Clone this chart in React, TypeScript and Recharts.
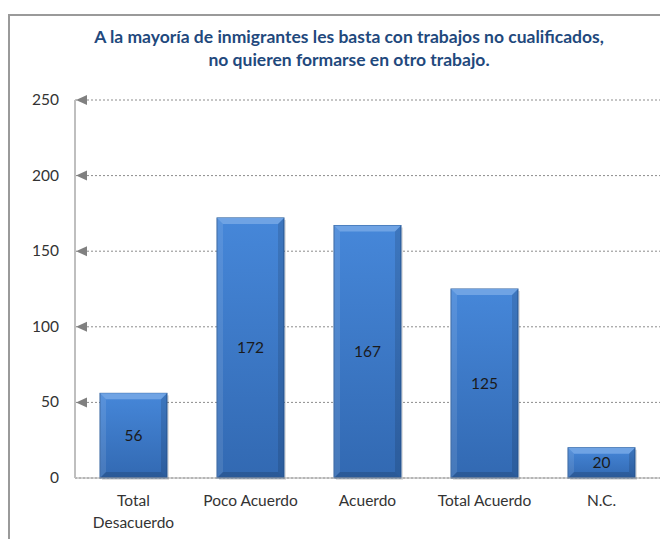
import { BarChart, Bar, XAxis, YAxis, CartesianGrid, LabelList } from "recharts";

const categories = ["Total\nDesacuerdo", "Poco Acuerdo", "Acuerdo", "Total Acuerdo", "N.C."];
const counts = [56, 172, 167, 125, 20];
const yTicks = [0, 50, 100, 150, 200, 250];
const titleLines = [
  "A la mayoría de inmigrantes les basta con trabajos no cualificados,",
  "no quieren formarse en otro trabajo.",
];

const data = categories.map((name, i) => ({ name, value: counts[i] }));

const FONT = "Lato, 'Open Sans', sans-serif";

const YTick = (props: any) => {
  const { x, y, payload } = props;
  return (
    <g>
      <text x={x - 16} y={y} dy={5} textAnchor="end" fontSize={15.5} fill="#333" fontFamily={FONT}>
        {payload.value}
      </text>
      {payload.value > 0 && <polygon points={`${x + 1},${y} ${x + 12},${y - 5} ${x + 12},${y + 5}`} fill="#808080" />}
    </g>
  );
};

const XTick = (props: any) => {
  const { x, y, payload } = props;
  const lines = String(payload.value).split("\n");
  return (
    <g>
      {lines.map((l, i) => (
        <text key={i} x={x} y={y + 15 + i * 22} dy={5} textAnchor="middle" fontSize={15.5} fill="#333" fontFamily={FONT}>
          {l}
        </text>
      ))}
    </g>
  );
};

const BevelBar = (props: any) => {
  const { x, y, width, height } = props;
  if (!height || height <= 0) return null;
  const b = 6;
  return (
    <g>
      <rect x={x + 2} y={y + 2} width={width} height={height} fill="rgba(0,0,0,0.12)" />
      <rect x={x} y={y} width={width} height={height} fill="url(#barFill)" stroke="#2a5d9c" strokeWidth={1} />
      <polygon points={`${x},${y} ${x + width},${y} ${x + width - b},${y + b} ${x + b},${y + b}`} fill="#6fa3e4" />
      <polygon points={`${x},${y} ${x + b},${y + b} ${x + b},${y + height - b} ${x},${y + height}`} fill="rgba(255,255,255,0.10)" />
      <polygon points={`${x + width},${y} ${x + width - b},${y + b} ${x + width - b},${y + height - b} ${x + width},${y + height}`} fill="rgba(0,0,0,0.12)" />
      <polygon points={`${x},${y + height} ${x + b},${y + height - b} ${x + width - b},${y + height - b} ${x + width},${y + height}`} fill="rgba(0,0,0,0.15)" />
    </g>
  );
};

export default function App() {
  return (
    <div style={{ position: "relative", width: 660, height: 531, overflow: "hidden", background: "#fff" }}>
      <div
        style={{
          position: "absolute",
          left: 0,
          top: 6,
          width: 700,
          height: 600,
          borderLeft: "2px solid #9a9a9a",
          borderTop: "2px solid #9a9a9a",
        }}
      />
      <div
        style={{
          position: "absolute",
          left: 0,
          width: 682,
          top: 17,
          textAlign: "center",
          fontFamily: FONT,
          fontWeight: "bold",
          fontSize: 17.5,
          lineHeight: "23px",
          color: "#1f497d",
        }}
      >
        {titleLines.map((t, i) => (
          <div key={i}>{t}</div>
        ))}
      </div>
      <BarChart
        width={660}
        height={531}
        data={data}
        margin={{ top: 92, right: 8, left: 0, bottom: 0 }}
        barSize={67}
        style={{ position: "absolute", left: 0, top: 0 }}
      >
        <defs>
          <linearGradient id="barFill" x1="0" y1="0" x2="0" y2="1">
            <stop offset="0%" stopColor="#4687d9" />
            <stop offset="100%" stopColor="#3269b2" />
          </linearGradient>
        </defs>
        <CartesianGrid vertical={false} stroke="#8c8c8c" strokeDasharray="2 2" />
        <XAxis
          dataKey="name"
          height={61}
          tick={<XTick />}
          tickLine={false}
          axisLine={{ stroke: "#a6a6a6" }}
          interval={0}
        />
        <YAxis
          width={67}
          domain={[0, 250]}
          ticks={yTicks}
          tick={<YTick />}
          tickLine={false}
          tickSize={0}
          tickMargin={0}
          axisLine={{ stroke: "#bfbfbf", strokeWidth: 2 }}
          interval={0}
        />
        <Bar dataKey="value" shape={<BevelBar />} isAnimationActive={false}>
          <LabelList dataKey="value" position="center" fill="#1a1a1a" fontSize={15.5} fontFamily={FONT} />
        </Bar>
      </BarChart>
    </div>
  );
}
